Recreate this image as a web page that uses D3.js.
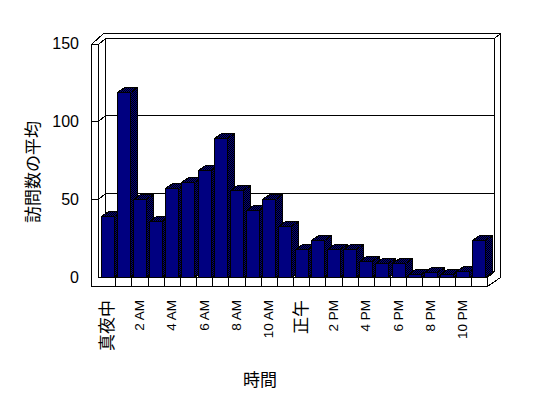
<!DOCTYPE html>
<html>
<head>
<meta charset="utf-8">
<script src="https://cdn.jsdelivr.net/npm/d3@7"></script>
<style>
  body { margin: 0; background: #fff; }
  svg { display: block; }
</style>
</head>
<body>
<div id="chart"></div>
<script>
// data
const hours = [
  '真夜中', '1 AM', '2 AM', '3 AM', '4 AM', '5 AM', '6 AM', '7 AM', '8 AM', '9 AM', '10 AM', '11 AM',
  '正午', '1 PM', '2 PM', '3 PM', '4 PM', '5 PM', '6 PM', '7 PM', '8 PM', '9 PM', '10 PM', '11 PM'
]
const visits = [39, 119, 50, 36, 57, 61, 69, 89, 56, 43, 50, 33, 18, 24, 18, 18, 10, 9, 9, 2, 3, 2, 4, 24]
const yTicks = [0, 50, 100, 150]
const xTickLabels = hours.filter((d, i) => i % 2 === 0)

const width = 548
const height = 398
const svg = d3.select('#chart').append('svg')
  .attr('width', width)
  .attr('height', height)
  .style('font-family', 'Arial, "Liberation Sans", sans-serif')

const x = d3.scaleBand().domain(hours).range([99, 487]).paddingInner(0.2).paddingOuter(0.1)
const y = d3.scaleLinear().domain([0, 150]).range([277, 43.5])

// 3d offsets
const wall = { dx: 7, dy: -6 }
const bar = { dx: 7, dy: -5 }

// dithered side/top fill
const defs = svg.append('defs')
const pat = defs.append('pattern')
  .attr('id', 'dither')
  .attr('width', 2).attr('height', 2)
  .attr('patternUnits', 'userSpaceOnUse')
pat.append('rect').attr('width', 2).attr('height', 2).attr('fill', '#000080')
pat.append('rect').attr('width', 1).attr('height', 1).attr('fill', '#000')
pat.append('rect').attr('x', 1).attr('y', 1).attr('width', 1).attr('height', 1).attr('fill', '#000')

const p = v => Math.round(v) + 0.5
const line = d3.line()

// walls & floor
const x0 = x.range()[0] - 1          // inner front edge of left wall
const x1 = x.range()[1]              // right end of floor front
const xw = x0 - 7                    // outer edge of left wall
const yb = y(0)                      // floor top (front)
const yt = y(150)                    // wall top (front)
const floorBottom = yb + 9
const backTop = yt + wall.dy - 5

const frame = svg.append('g')
  .attr('fill', 'none')
  .attr('stroke', '#000')
  .attr('shape-rendering', 'crispEdges')

frame.append('path')
  .attr('fill', '#fff')
  .attr('d', line([
    [xw, floorBottom], [x1, floorBottom], [x1 + 13, yb], [x1 + 13, backTop],
    [x0 + wall.dx - 2, backTop], [xw, yt]
  ].map(d => d.map(p))) + 'Z')

const segs = [
  [[xw, yt], [x0, yt]],
  [[x0, yt], [x0, yb]],
  [[x0, yt], [x0 + wall.dx, yt + wall.dy], [x1 + wall.dx, yt + wall.dy], [x1 + 13, backTop]],
  [[x0 + wall.dx, yt + wall.dy], [x0 + wall.dx, yb + wall.dy]],
  [[x1 + wall.dx, yt + wall.dy], [x1 + wall.dx, yb + wall.dy]],
  [[x0 + wall.dx, yb + wall.dy], [x1 + wall.dx, yb + wall.dy]],
  [[x0, yb], [x1, yb], [x1 + wall.dx, yb + wall.dy]],
  [[x1, yb], [x1, floorBottom]]
]
// gridlines on left + back wall
yTicks.filter(v => v > 0 && v < 150).forEach(v => {
  segs.push([[xw, y(v)], [x0, y(v)], [x0 + wall.dx, y(v) + wall.dy], [x1 + wall.dx, y(v) + wall.dy]])
})
// category dividers on floor front
d3.range(1, hours.length).forEach(i => {
  const bx = x.range()[0] + i * x.step()
  segs.push([[bx, yb], [bx, floorBottom]])
})
frame.selectAll('path.seg').data(segs).join('path')
  .attr('class', 'seg')
  .attr('d', d => line(d.map(q => q.map(p))))

// bars, left to right so the next front face covers the side
const bars = svg.append('g')
  .attr('stroke', '#000')
  .attr('shape-rendering', 'crispEdges')
  .selectAll('g').data(hours.map((h, i) => ({ h, v: visits[i] }))).join('g')

bars.each(function (d) {
  const g = d3.select(this)
  const bx = Math.round(x(d.h))
  const bw = Math.round(x.bandwidth())
  const top = Math.round(y(d.v))
  const base = Math.round(y(0))
  g.append('path')
    .attr('fill', 'url(#dither)')
    .attr('d', line([[bx, top], [bx + bar.dx, top + bar.dy], [bx + bw + bar.dx, top + bar.dy], [bx + bw, top]].map(q => q.map(p))) + 'Z')
  g.append('path')
    .attr('fill', 'url(#dither)')
    .attr('d', line([[bx + bw, top], [bx + bw + bar.dx, top + bar.dy], [bx + bw + bar.dx, base + bar.dy], [bx + bw, base]].map(q => q.map(p))) + 'Z')
  g.append('rect')
    .attr('x', p(bx)).attr('y', p(top))
    .attr('width', bw).attr('height', base - top)
    .attr('fill', '#000080')
})

// y axis labels
const yAxis = svg.append('g')
  .attr('transform', 'translate(80,0)')
  .call(d3.axisLeft(y).tickValues(yTicks).tickSize(0).tickPadding(1))
yAxis.select('.domain').remove()
yAxis.selectAll('text')
  .attr('font-size', 16)
  .attr('font-family', 'Arial, "Liberation Sans", sans-serif')
  .attr('fill', '#000')

// x axis labels (rotated)
const isLatin = d => /[A-Z]/.test(d)
const xAxis = svg.append('g')
  .attr('transform', 'translate(0,300)')
  .call(d3.axisBottom(x).tickValues(xTickLabels).tickSize(0))
xAxis.select('.domain').remove()
xAxis.selectAll('text')
  .attr('transform', 'rotate(-90)')
  .attr('x', 0).attr('y', 0).attr('dy', '0.35em')
  .attr('text-anchor', 'end')
  .attr('fill', '#000')
  .attr('font-size', d => isLatin(d) ? 13.5 : 17)
  .attr('font-family', d => isLatin(d) ? 'Arial, "Liberation Sans", sans-serif' : '"Noto Sans CJK JP", sans-serif')

// titles
svg.append('text')
  .attr('transform', 'translate(31,172) rotate(-90)')
  .attr('text-anchor', 'middle')
  .attr('dominant-baseline', 'central')
  .attr('font-family', '"Noto Sans CJK JP", sans-serif')
  .attr('font-size', 17)
  .text('訪問数の平均')

svg.append('text')
  .attr('x', 260).attr('y', 378)
  .attr('text-anchor', 'middle')
  .attr('dominant-baseline', 'central')
  .attr('font-family', '"Noto Sans CJK JP", sans-serif')
  .attr('font-size', 17)
  .text('時間')
</script>
</body>
</html>
